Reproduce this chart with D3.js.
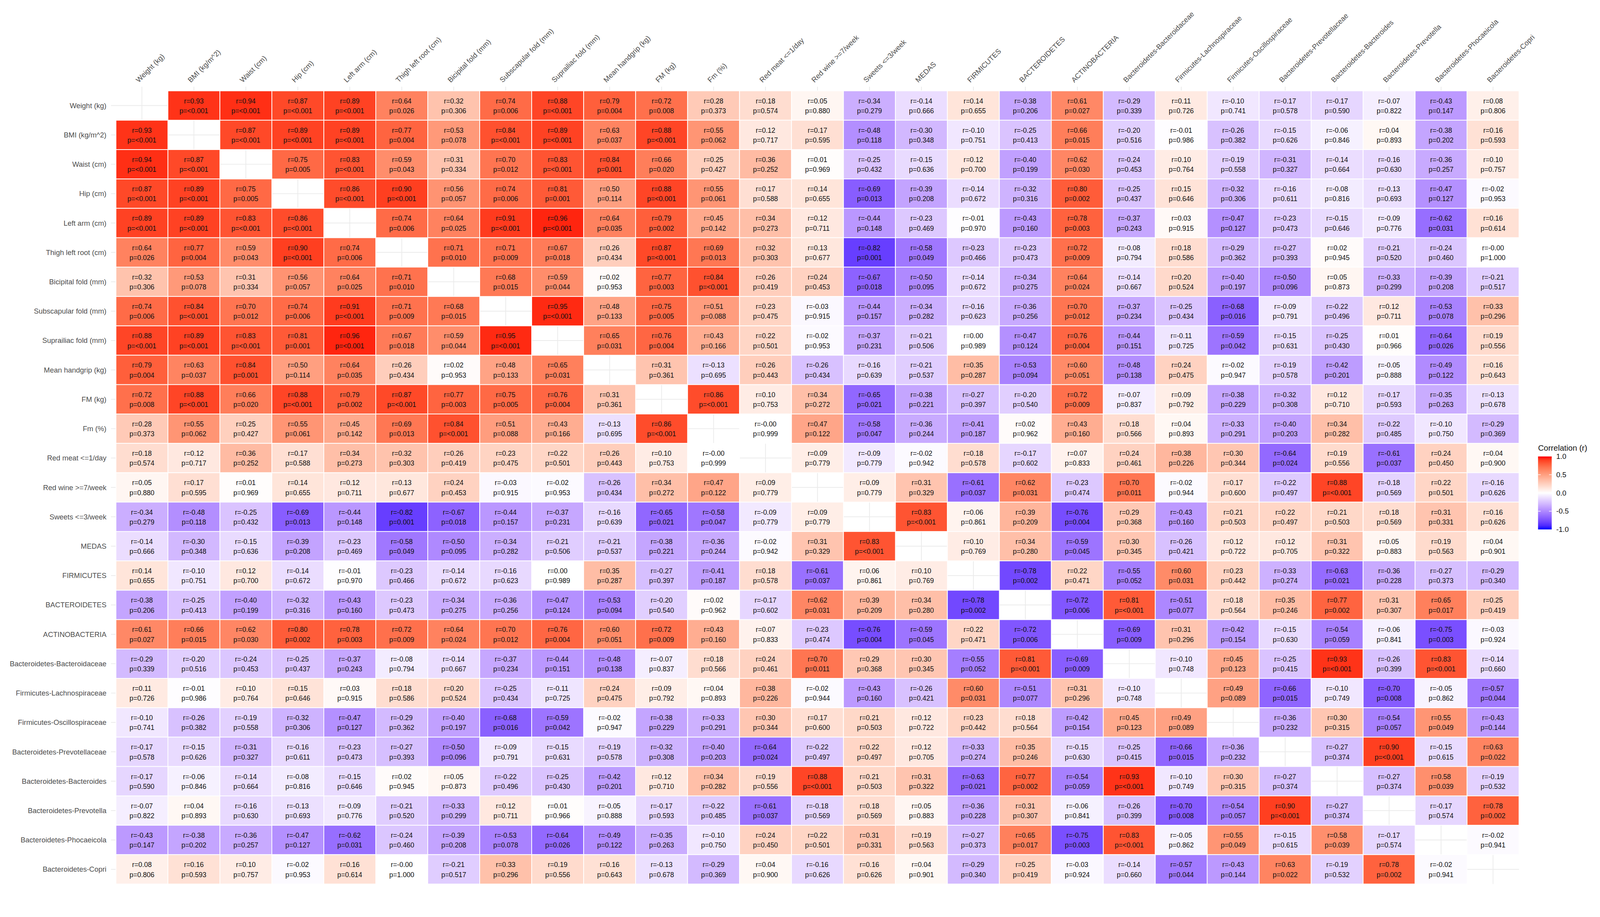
<!DOCTYPE html>
<html><head><meta charset="utf-8">
<script src="https://cdn.jsdelivr.net/npm/d3@7"></script>
<style>html,body{margin:0;padding:0;background:#fff;overflow:hidden;width:100%;height:100%}svg{display:block}</style>
</head><body>
<script>
const labels = ["Weight (kg)","BMI (kg/m^2)","Waist (cm)","Hip (cm)","Left arm (cm)","Thigh left root (cm)","Bicipital fold (mm)","Subscapular fold (mm)","Suprailiac fold (mm)","Mean handgrip (kg)","FM (kg)","Fm (%)","Red meat <=1/day","Red wine >=7/week","Sweets <=3/week","MEDAS","FIRMICUTES","BACTEROIDETES","ACTINOBACTERIA","Bacteroidetes-Bacteroidaceae","Firmicutes-Lachnospiraceae","Firmicutes-Oscillospiraceae","Bacteroidetes-Prevotellaceae","Bacteroidetes-Bacteroides","Bacteroidetes-Prevotella","Bacteroidetes-Phocaeicola","Bacteroidetes-Copri"];
const rLower = [
[],
[0.93],
[0.94,0.87],
[0.87,0.89,0.75],
[0.89,0.89,0.83,0.86],
[0.64,0.77,0.59,0.90,0.74],
[0.32,0.53,0.31,0.56,0.64,0.71],
[0.74,0.84,0.70,0.74,0.91,0.71,0.68],
[0.88,0.89,0.83,0.81,0.96,0.67,0.59,0.95],
[0.79,0.63,0.84,0.50,0.64,0.26,0.02,0.48,0.65],
[0.72,0.88,0.66,0.88,0.79,0.87,0.77,0.75,0.76,0.31],
[0.28,0.55,0.25,0.55,0.45,0.69,0.84,0.51,0.43,-0.13,0.86],
[0.18,0.12,0.36,0.17,0.34,0.32,0.26,0.23,0.22,0.26,0.10,-0.00],
[0.05,0.17,0.01,0.14,0.12,0.13,0.24,-0.03,-0.02,-0.26,0.34,0.47,0.09],
[-0.34,-0.48,-0.25,-0.69,-0.44,-0.82,-0.67,-0.44,-0.37,-0.16,-0.65,-0.58,-0.09,0.09],
[-0.14,-0.30,-0.15,-0.39,-0.23,-0.58,-0.50,-0.34,-0.21,-0.21,-0.38,-0.36,-0.02,0.31,0.83],
[0.14,-0.10,0.12,-0.14,-0.01,-0.23,-0.14,-0.16,0.00,0.35,-0.27,-0.41,0.18,-0.61,0.06,0.10],
[-0.38,-0.25,-0.40,-0.32,-0.43,-0.23,-0.34,-0.36,-0.47,-0.53,-0.20,0.02,-0.17,0.62,0.39,0.34,-0.78],
[0.61,0.66,0.62,0.80,0.78,0.72,0.64,0.70,0.76,0.60,0.72,0.43,0.07,-0.23,-0.76,-0.59,0.22,-0.72],
[-0.29,-0.20,-0.24,-0.25,-0.37,-0.08,-0.14,-0.37,-0.44,-0.48,-0.07,0.18,0.24,0.70,0.29,0.30,-0.55,0.81,-0.69],
[0.11,-0.01,0.10,0.15,0.03,0.18,0.20,-0.25,-0.11,0.24,0.09,0.04,0.38,-0.02,-0.43,-0.26,0.60,-0.51,0.31,-0.10],
[-0.10,-0.26,-0.19,-0.32,-0.47,-0.29,-0.40,-0.68,-0.59,-0.02,-0.38,-0.33,0.30,0.17,0.21,0.12,0.23,0.18,-0.42,0.45,0.49],
[-0.17,-0.15,-0.31,-0.16,-0.23,-0.27,-0.50,-0.09,-0.15,-0.19,-0.32,-0.40,-0.64,-0.22,0.22,0.12,-0.33,0.35,-0.15,-0.25,-0.66,-0.36],
[-0.17,-0.06,-0.14,-0.08,-0.15,0.02,0.05,-0.22,-0.25,-0.42,0.12,0.34,0.19,0.88,0.21,0.31,-0.63,0.77,-0.54,0.93,-0.10,0.30,-0.27],
[-0.07,0.04,-0.16,-0.13,-0.09,-0.21,-0.33,0.12,0.01,-0.05,-0.17,-0.22,-0.61,-0.18,0.18,0.05,-0.36,0.31,-0.06,-0.26,-0.70,-0.54,0.90,-0.27],
[-0.43,-0.38,-0.36,-0.47,-0.62,-0.24,-0.39,-0.53,-0.64,-0.49,-0.35,-0.10,0.24,0.22,0.31,0.19,-0.27,0.65,-0.75,0.83,-0.05,0.55,-0.15,0.58,-0.17],
[0.08,0.16,0.10,-0.02,0.16,-0.00,-0.21,0.33,0.19,0.16,-0.13,-0.29,0.04,-0.16,0.16,0.04,-0.29,0.25,-0.03,-0.14,-0.57,-0.43,0.63,-0.19,0.78,-0.02]
];
const L = "<0.001";
const pLower = [
[],
[L],
[L,L],
[L,L,"0.005"],
[L,L,L,L],
["0.026","0.004","0.043",L,"0.006"],
["0.306","0.078","0.334","0.057","0.025","0.010"],
["0.006",L,"0.012","0.006",L,"0.009","0.015"],
[L,L,L,"0.001",L,"0.018","0.044",L],
["0.004","0.037","0.001","0.114","0.035","0.434","0.953","0.133","0.031"],
["0.008",L,"0.020",L,"0.002",L,"0.003","0.005","0.004","0.361"],
["0.373","0.062","0.427","0.061","0.142","0.013",L,"0.088","0.166","0.695",L],
["0.574","0.717","0.252","0.588","0.273","0.303","0.419","0.475","0.501","0.443","0.753","0.999"],
["0.880","0.595","0.969","0.655","0.711","0.677","0.453","0.915","0.953","0.434","0.272","0.122","0.779"],
["0.279","0.118","0.432","0.013","0.148","0.001","0.018","0.157","0.231","0.639","0.021","0.047","0.779","0.779"],
["0.666","0.348","0.636","0.208","0.469","0.049","0.095","0.282","0.506","0.537","0.221","0.244","0.942","0.329",L],
["0.655","0.751","0.700","0.672","0.970","0.466","0.672","0.623","0.989","0.287","0.397","0.187","0.578","0.037","0.861","0.769"],
["0.206","0.413","0.199","0.316","0.160","0.473","0.275","0.256","0.124","0.094","0.540","0.962","0.602","0.031","0.209","0.280","0.002"],
["0.027","0.015","0.030","0.002","0.003","0.009","0.024","0.012","0.004","0.051","0.009","0.160","0.833","0.474","0.004","0.045","0.471","0.006"],
["0.339","0.516","0.453","0.437","0.243","0.794","0.667","0.234","0.151","0.138","0.837","0.566","0.461","0.011","0.368","0.345","0.052",L,"0.009"],
["0.726","0.986","0.764","0.646","0.915","0.586","0.524","0.434","0.725","0.475","0.792","0.893","0.226","0.944","0.160","0.421","0.031","0.077","0.296","0.748"],
["0.741","0.382","0.558","0.306","0.127","0.362","0.197","0.016","0.042","0.947","0.229","0.291","0.344","0.600","0.503","0.722","0.442","0.564","0.154","0.123","0.089"],
["0.578","0.626","0.327","0.611","0.473","0.393","0.096","0.791","0.631","0.578","0.308","0.203","0.024","0.497","0.497","0.705","0.274","0.246","0.630","0.415","0.015","0.232"],
["0.590","0.846","0.664","0.816","0.646","0.945","0.873","0.496","0.430","0.201","0.710","0.282","0.556",L,"0.503","0.322","0.021","0.002","0.059",L,"0.749","0.315","0.374"],
["0.822","0.893","0.630","0.693","0.776","0.520","0.299","0.711","0.966","0.888","0.593","0.485","0.037","0.569","0.569","0.883","0.228","0.307","0.841","0.399","0.008","0.057",L,"0.374"],
["0.147","0.202","0.257","0.127","0.031","0.460","0.208","0.078","0.026","0.122","0.263","0.750","0.450","0.501","0.331","0.563","0.373","0.017","0.003",L,"0.862","0.049","0.615","0.039","0.574"],
["0.806","0.593","0.757","0.953","0.614","1.000","0.517","0.296","0.556","0.643","0.678","0.369","0.900","0.626","0.626","0.901","0.340","0.419","0.924","0.660","0.044","0.144","0.022","0.532","0.002","0.941"]
];
const legendTicks = [1.0, 0.5, 0.0, -0.5, -1.0];

const W = 4209, H = 2348;
const svg = d3.select("body").append("svg")
  .attr("viewBox", `0 0 ${W} ${H}`).attr("preserveAspectRatio", "xMinYMin meet")
  .style("width", "100vw").style("height", "100vh")
  .style("font-family", "'Liberation Sans', Arial, sans-serif");

const x = d3.scaleBand().domain(labels).range([305, 3996]);
const y = d3.scaleBand().domain(labels).range([239, 2326]);
const color = v => v >= 0 ? d3.interpolateLab("#ffffff", "#ff0000")(v) : d3.interpolateLab("#ffffff", "#0000ff")(-v);

const g = svg.append("g");
g.selectAll("line.v").data(labels).join("line")
  .attr("x1", d => x(d) + x.bandwidth()/2).attr("x2", d => x(d) + x.bandwidth()/2)
  .attr("y1", 228).attr("y2", 2326).attr("stroke", "#ebebeb").attr("stroke-width", 2);
g.selectAll("line.h").data(labels).join("line")
  .attr("y1", d => y(d) + y.bandwidth()/2).attr("y2", d => y(d) + y.bandwidth()/2)
  .attr("x1", 292).attr("x2", 3996).attr("stroke", "#ebebeb").attr("stroke-width", 2);

const cells = [];
rLower.forEach((row, i) => row.forEach((r, j) => {
  const p = pLower[i][j];
  cells.push({row: labels[i], col: labels[j], r, p});
  cells.push({row: labels[j], col: labels[i], r, p});
}));
const fmt = v => (v < 0 || Object.is(v, -0) ? "-" : "") + Math.abs(v).toFixed(2);

const cg = svg.append("g").selectAll("g").data(cells).join("g")
  .attr("transform", d => `translate(${x(d.col)},${y(d.row)})`);
cg.append("rect").attr("width", x.bandwidth()).attr("height", y.bandwidth())
  .attr("fill", d => color(d.r)).attr("stroke", "#fff").attr("stroke-width", 2);
cg.append("text").attr("x", x.bandwidth()/2).attr("y", y.bandwidth()/2 - 12)
  .attr("text-anchor", "middle").attr("dominant-baseline", "central")
  .attr("font-size", 18).attr("fill", "#111").text(d => "r=" + fmt(d.r));
cg.append("text").attr("x", x.bandwidth()/2).attr("y", y.bandwidth()/2 + 14)
  .attr("text-anchor", "middle").attr("dominant-baseline", "central")
  .attr("font-size", 18).attr("fill", "#111").text(d => "p=" + d.p);

svg.append("g").selectAll("text").data(labels).join("text")
  .attr("x", 280).attr("y", d => y(d) + y.bandwidth()/2)
  .attr("text-anchor", "end").attr("dominant-baseline", "central")
  .attr("font-size", 19).attr("fill", "#4d4d4d").text(d => d);

svg.append("g").selectAll("text").data(labels).join("text")
  .attr("transform", d => `translate(${x(d) + x.bandwidth()/2 - 8},${218}) rotate(-45)`)
  .attr("text-anchor", "start")
  .attr("font-size", 19).attr("fill", "#4d4d4d").text(d => d);

const lx = 4046, ly0 = 1201, ly1 = 1393, lw = 36;
const defs = svg.append("defs");
const grad = defs.append("linearGradient").attr("id", "lg").attr("x1", 0).attr("y1", 0).attr("x2", 0).attr("y2", 1);
d3.range(0, 21).forEach(k => {
  const v = 1 - k / 10;
  grad.append("stop").attr("offset", (k / 20)).attr("stop-color", color(v));
});
svg.append("text").attr("x", lx).attr("y", 1186).attr("font-size", 21).attr("fill", "#111").text("Correlation (r)");
svg.append("rect").attr("x", lx).attr("y", ly0).attr("width", lw).attr("height", ly1 - ly0).attr("fill", "url(#lg)");
const ls = d3.scaleLinear().domain([1, -1]).range([ly0, ly1]);
legendTicks.forEach(t => {
  svg.append("text").attr("x", lx + lw + 12).attr("y", ls(t)).attr("dominant-baseline", "central")
    .attr("font-size", 19).attr("fill", "#111").text(t.toFixed(1));
  if (Math.abs(t) < 1) {
    svg.append("line").attr("x1", lx).attr("x2", lx + 7).attr("y1", ls(t)).attr("y2", ls(t)).attr("stroke", "#fff").attr("stroke-width", 1.5);
    svg.append("line").attr("x1", lx + lw - 7).attr("x2", lx + lw).attr("y1", ls(t)).attr("y2", ls(t)).attr("stroke", "#fff").attr("stroke-width", 1.5);
  }
});
</script>
</body></html>
